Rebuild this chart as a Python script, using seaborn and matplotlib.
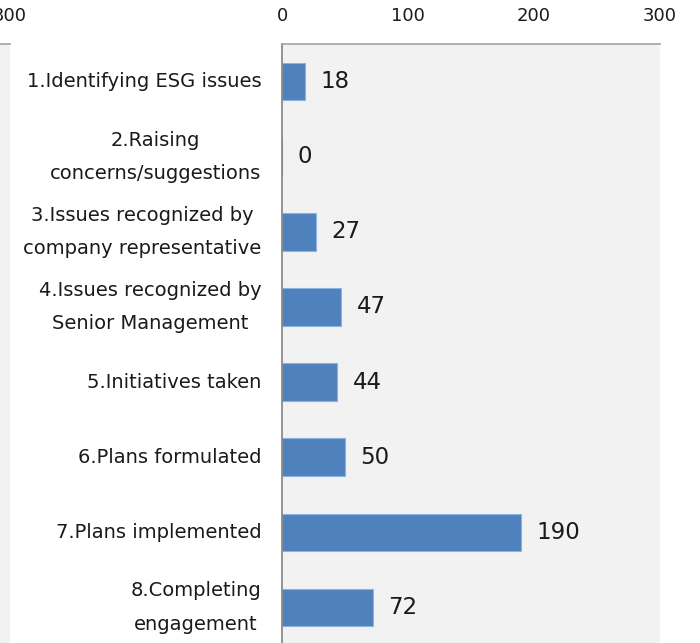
import matplotlib
matplotlib.use("Agg")
import matplotlib.pyplot as plt
import seaborn as sns
import pandas as pd

# Engagement stages and number of cases at each stage
stages = [
    "1.Identifying ESG issues",
    "2.Raising\nconcerns/suggestions",
    "3.Issues recognized by\ncompany representative",
    "4.Issues recognized by\nSenior Management",
    "5.Initiatives taken",
    "6.Plans formulated",
    "7.Plans implemented",
    "8.Completing\nengagement",
]
counts = [18, 0, 27, 47, 44, 50, 190, 72]
x_ticks = [0, 100, 200, 300]

sns.set_theme(style="white")
plt.rcParams["font.family"] = ["DejaVu Sans"]

W, H = 700, 643
fig = plt.figure(figsize=(W / 100, H / 100), dpi=100)

bg = "#f2f2f2"
bar_color = "#4f81bd"
top_px, bottom_px = 44, 645
ax_h = (bottom_px - top_px) / H
ax_y0 = (H - bottom_px) / H

# Neighbouring panel, mostly outside the canvas on the left
ax_prev = fig.add_axes([(10 - 378) / W, ax_y0, 378 / W, ax_h])
ax_prev.set_facecolor(bg)
ax_prev.set_xlim(0, 300)
ax_prev.set_ylim(7.5, -0.5)
ax_prev.xaxis.tick_top()
ax_prev.set_xticks(x_ticks)
ax_prev.set_xticklabels([str(t) for t in x_ticks], fontsize=13, color="#1a1a1a")
ax_prev.tick_params(axis="x", length=0, pad=14)
ax_prev.set_yticks([])
for side in ["left", "right", "bottom"]:
    ax_prev.spines[side].set_visible(False)
ax_prev.spines["top"].set_color("#a6a6a6")

# Main panel
ax = fig.add_axes([282 / W, ax_y0, 378 / W, ax_h])
ax.set_facecolor(bg)
df = pd.DataFrame({"stage": stages, "count": counts})
sns.barplot(data=df, x="count", y="stage", orient="h", color=bar_color,
            saturation=1, width=0.5, edgecolor="#8db3e2", linewidth=0.8, ax=ax)
ax.set_xlim(0, 300)
ax.set_ylim(7.5, -0.5)
ax.xaxis.tick_top()
ax.set_xticks(x_ticks)
ax.set_xticklabels([str(t) for t in x_ticks], fontsize=13, color="#1a1a1a")
ax.tick_params(axis="x", length=0, pad=14)
ax.tick_params(axis="y", length=0, pad=15)
ax.set_yticks(range(len(stages)))
ax.set_yticklabels(stages, fontsize=14, color="#1a1a1a", linespacing=1.95,
                   ha="right", va="center", multialignment="center")
ax.set_xlabel("")
ax.set_ylabel("")
for side in ["right", "bottom"]:
    ax.spines[side].set_visible(False)
ax.spines["top"].set_color("#a6a6a6")
ax.spines["left"].set_color("#868686")

for cont in ax.containers:
    ax.bar_label(cont, labels=[str(v) for v in counts], padding=11,
                 fontsize=16.5, color="#1a1a1a")

fig.savefig("out.png", dpi=100)
